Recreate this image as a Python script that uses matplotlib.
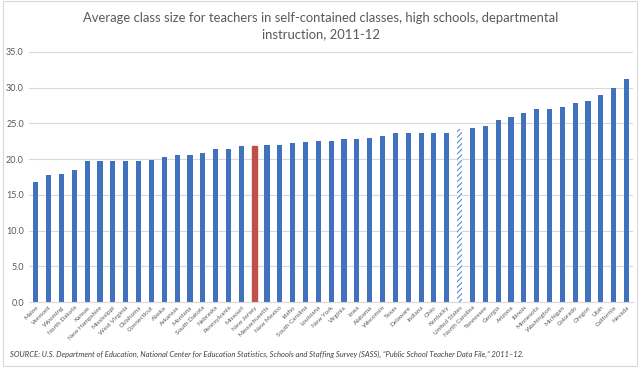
import matplotlib
matplotlib.use('Agg')
import matplotlib.pyplot as plt
from matplotlib.patches import Rectangle

plt.rcParams['font.family'] = ['Lato', 'DejaVu Sans']
plt.rcParams['hatch.linewidth'] = 0.8

states = ['Maine', 'Vermont', 'Wyoming', 'North Dakota', 'Kansas', 'New Hampshire',
          'Mississippi', 'West Virginia', 'Oklahoma', 'Connecticut', 'Alaska', 'Arkansas',
          'Montana', 'South Dakota', 'Nebraska', 'Pennsylvania', 'Missouri', 'New Jersey',
          'Massachusetts', 'New Mexico', 'Idaho', 'South Carolina', 'Louisiana', 'New York',
          'Virginia', 'Iowa', 'Alabama', 'Wisconsin', 'Texas', 'Delaware', 'Indiana', 'Ohio',
          'Kentucky', 'United States', 'North Carolina', 'Tennessee', 'Georgia', 'Arizona',
          'Illinois', 'Minnesota', 'Washington', 'Michigan', 'Colorado', 'Oregon', 'Utah',
          'California', 'Nevada']
class_size = [16.8, 17.8, 17.9, 18.5, 19.7, 19.7, 19.7, 19.8, 19.8, 19.9, 20.3, 20.6,
              20.6, 20.9, 21.4, 21.4, 21.8, 21.9, 22.0, 22.0, 22.2, 22.4, 22.5, 22.5,
              22.8, 22.8, 23.0, 23.2, 23.6, 23.6, 23.6, 23.6, 23.6, 24.2, 24.4, 24.6,
              25.5, 25.9, 26.4, 27.0, 27.0, 27.3, 27.9, 28.1, 29.0, 30.0, 31.2]
y_ticks = [0, 5, 10, 15, 20, 25, 30, 35]

BLUE = '#4172BE'
RED = '#C0504D'
TEXT = '#595959'

fig = plt.figure(figsize=(6.4, 3.68), dpi=100)
fig.patches.append(Rectangle((0.004, 0.006), 0.992, 0.99, transform=fig.transFigure,
                             fill=False, edgecolor='#D9D9D9', linewidth=0.8))
ax = fig.add_axes([0.046, 0.179, 0.943, 0.68])

x = range(len(states))
bars = ax.bar(x, class_size, width=0.4, color=BLUE, zorder=2)
for bar, name in zip(bars, states):
    if name == 'New Jersey':
        bar.set_color(RED)
    elif name == 'United States':
        bar.set_facecolor('white')
        bar.set_edgecolor('#5B8BD0')
        bar.set_hatch('//////')
        bar.set_linewidth(0)

ax.set_xlim(-0.5, len(states) - 0.5)
ax.set_ylim(0, 35)
ax.set_yticks(y_ticks)
ax.set_yticklabels([f'{v:.1f}' for v in y_ticks], fontsize=6.5, color=TEXT)
ax.yaxis.grid(True, color='#D9D9D9', linewidth=0.8, zorder=0)
ax.set_axisbelow(True)
ax.tick_params(axis='y', length=0, pad=4)
ax.tick_params(axis='x', length=0, pad=2)
ax.set_xticks(list(x))
ax.set_xticklabels(states, rotation=45, ha='right', rotation_mode='anchor',
                   fontsize=4.6, color=TEXT)
for side in ['top', 'right', 'left']:
    ax.spines[side].set_visible(False)
ax.spines['bottom'].set_color('#D9D9D9')
ax.spines['bottom'].set_linewidth(0.8)

fig.text(0.501, 0.929, 'Average class size for teachers in self-contained classes, high schools, departmental\ninstruction, 2011-12',
         ha='center', va='center', fontsize=9.4, color=TEXT, linespacing=1.4)
fig.text(0.016, 0.036, 'SOURCE: U.S. Department of Education, National Center for Education Statistics, '
         'Schools and Staffing Survey (SASS), \u201cPublic School Teacher Data File,\u201d 2011\u201312.',
         ha='left', va='center', fontsize=5.5, style='italic', color='#404040')

fig.savefig('out.png', dpi=100)
